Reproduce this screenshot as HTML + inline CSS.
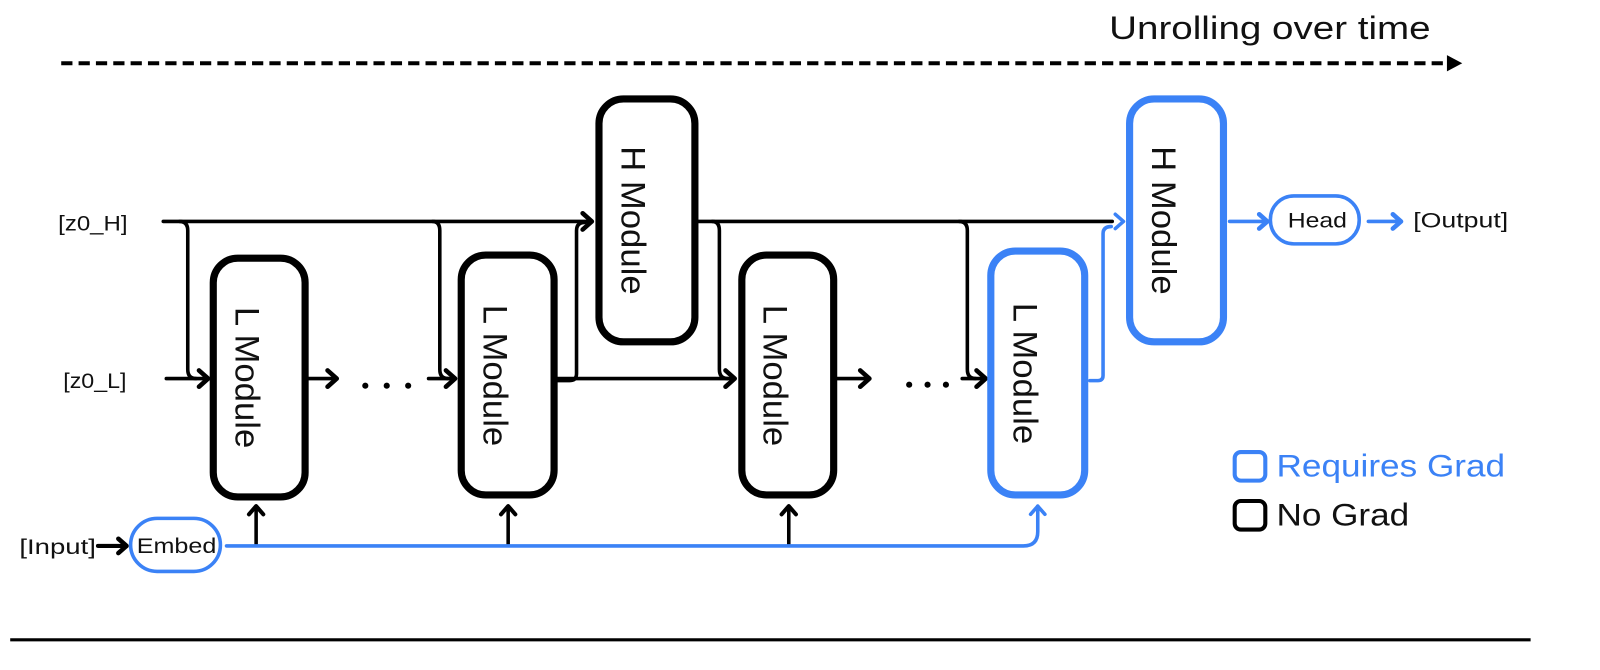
<!DOCTYPE html>
<html><head><meta charset="utf-8"><style>
html,body{margin:0;padding:0;background:#fff;}
svg{display:block;font-family:"Liberation Sans",sans-serif;}
</style></head><body>
<svg width="1600" height="670" viewBox="0 0 1568 656.6" preserveAspectRatio="none" xmlns="http://www.w3.org/2000/svg">
<text x="1087" y="38" font-size="32" textLength="315" lengthAdjust="spacingAndGlyphs" fill="#111">Unrolling over time</text>
<line x1="60" y1="62" x2="1418" y2="62" stroke="#000" stroke-width="4" stroke-dasharray="11,6"/>
<polygon points="1418,54 1433,62 1418,70" fill="#000"/>
<line x1="10" y1="627" x2="1500" y2="627" stroke="#000" stroke-width="3"/>

<g fill="none" stroke="#000" stroke-width="3.5" stroke-linejoin="round" stroke-linecap="round">
<path d="M160 217 H580"/><path d="M571 209 L580 217 L571 225" stroke-width="4.5"/>
<path d="M684 217 H1090"/>
<path d="M163 371 H204"/><path d="M195 363 L204 371 L195 379" stroke-width="4.5"/>
<path d="M176 217 Q184 217 184 226 V362 Q184 371 192 371"/>
<path d="M424 217 Q431 217 431 226 V362 Q431 371 439 371"/>
<path d="M546 373 H558 Q565 373 565 366 V226 Q565 218 573 218"/>
<path d="M546 371 H720"/><path d="M711 363 L720 371 L711 379" stroke-width="4.5"/>
<path d="M698 217 Q705 217 705 226 V362 Q705 371 713 371"/>
<path d="M940 217 Q948 217 948 226 V362 Q948 371 956 371"/>
<path d="M420 371 H446"/><path d="M437 363 L446 371 L437 379" stroke-width="4.5"/>
<path d="M302 371 H330"/><path d="M321 363 L330 371 L321 379" stroke-width="4.5"/>
<path d="M820 371 H852"/><path d="M843 363 L852 371 L843 379" stroke-width="4.5"/>
<path d="M943 371 H966"/><path d="M957 363 L966 371 L957 379" stroke-width="4.5"/>
<path d="M251 534 V496"/><path d="M244 504 L251 496 L258 504" stroke-width="4"/>
<path d="M498 534 V496"/><path d="M491 504 L498 496 L505 504" stroke-width="4"/>
<path d="M773 534 V496"/><path d="M766 504 L773 496 L780 504" stroke-width="4"/>
<path d="M96 535 H124" stroke-width="4"/><path d="M116 528 L124 535 L116 542" stroke-width="4.5"/>
</g>
<g fill="#000">
<circle cx="358" cy="378" r="3"/><circle cx="379" cy="378" r="3"/><circle cx="400" cy="378" r="3"/>
<circle cx="891" cy="377" r="3"/><circle cx="909" cy="377" r="3"/><circle cx="927" cy="377" r="3"/>
</g>
<g fill="none" stroke="#3b82f6" stroke-width="3.5" stroke-linejoin="round" stroke-linecap="round">
<path d="M222 535 H1003 Q1017 535 1017 521 V496"/><path d="M1010 504 L1017 496 L1024 504"/>
<path d="M1068 373 H1076 Q1081 373 1081 368 V229 Q1081 222 1089 222"/>
<path d="M1093 210 L1101 217 L1093 224"/>
<path d="M1205 217 H1242"/><path d="M1234 210 L1242 217 L1234 224" stroke-width="4.5"/>
<path d="M1341 217 H1373"/><path d="M1365 210 L1373 217 L1365 224" stroke-width="4.5"/>
</g>
<g fill="#fff" stroke-width="7">
<rect x="209" y="253" width="90" height="234" rx="24" stroke="#000"/>
<rect x="452" y="250" width="91" height="235" rx="24" stroke="#000"/>
<rect x="587" y="97" width="94" height="238" rx="24" stroke="#000"/>
<rect x="727" y="250" width="90" height="235" rx="24" stroke="#000"/>
<rect x="971" y="246" width="92" height="239" rx="24" stroke="#3b82f6"/>
<rect x="1107" y="97" width="92" height="238" rx="24" stroke="#3b82f6"/>
</g>
<rect x="1245" y="192" width="87" height="47" rx="23" fill="#fff" stroke="#3b82f6" stroke-width="3.5"/>
<rect x="128" y="508" width="88" height="52" rx="26" fill="#fff" stroke="#3b82f6" stroke-width="3.5"/>
<g font-size="34" fill="#111" text-anchor="middle">
<text transform="translate(243,370) rotate(90)" dy="12">L Module</text>
<text transform="translate(486,368) rotate(90)" dy="12">L Module</text>
<text transform="translate(621,216) rotate(90)" dy="12">H Module</text>
<text transform="translate(760,368) rotate(90)" dy="12">L Module</text>
<text transform="translate(1005,366) rotate(90)" dy="12">L Module</text>
<text transform="translate(1141,216) rotate(90)" dy="12">H Module</text>
</g>
<g font-size="21" fill="#111">
<text x="1262" y="223" textLength="58" lengthAdjust="spacingAndGlyphs">Head</text>
<text x="134" y="542" textLength="78" lengthAdjust="spacingAndGlyphs">Embed</text>
<text x="1385" y="223" textLength="93" lengthAdjust="spacingAndGlyphs">[Output]</text>
<text x="57" y="226" textLength="68" lengthAdjust="spacingAndGlyphs">[z0_H]</text>
<text x="62" y="380" textLength="62" lengthAdjust="spacingAndGlyphs">[z0_L]</text>
<text x="19" y="543" textLength="75" lengthAdjust="spacingAndGlyphs">[Input]</text>
</g>
<rect x="1210" y="443" width="30" height="28" rx="6" fill="none" stroke="#3b82f6" stroke-width="4"/>
<text x="1251" y="467" font-size="31" fill="#3b82f6" textLength="224" lengthAdjust="spacingAndGlyphs">Requires Grad</text>
<rect x="1210" y="491" width="30" height="28" rx="6" fill="none" stroke="#000" stroke-width="4"/>
<text x="1251" y="515" font-size="31" fill="#111" textLength="130" lengthAdjust="spacingAndGlyphs">No Grad</text>
</svg>
</body></html>
